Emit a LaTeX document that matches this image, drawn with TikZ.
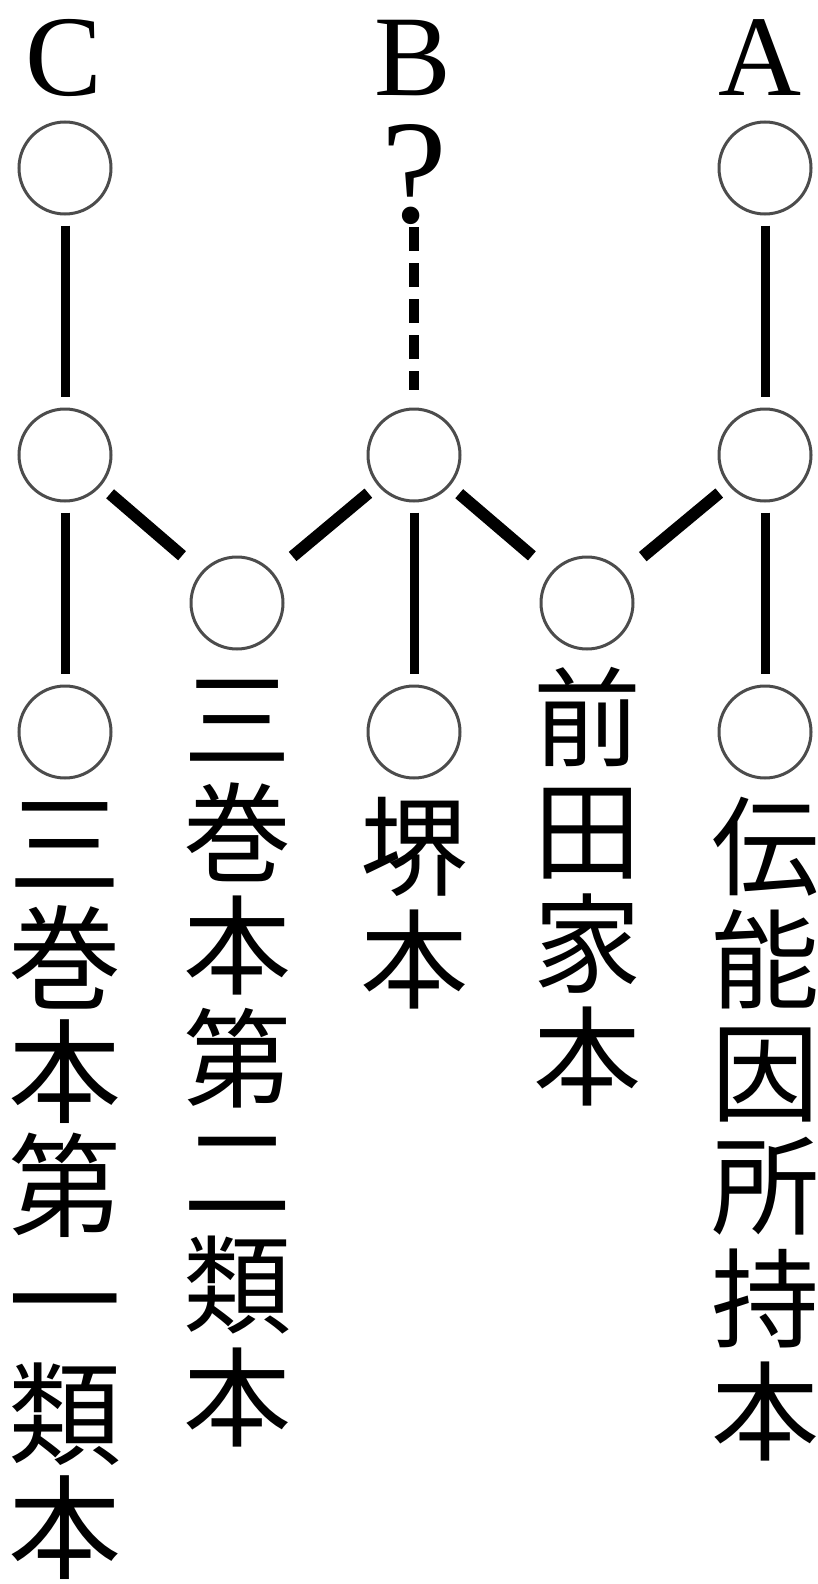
\documentclass[tikz,border=0pt]{standalone}
\usepackage{fontspec}
\setmainfont{Liberation Serif}
\newfontfamily\jp{Noto Sans CJK JP}

\begin{document}
\begin{tikzpicture}[x=1pt,y=-1pt,
  ring/.style={circle,draw=black!70,line width=3pt,minimum size=92pt,inner sep=0pt},
  stem/.style={line width=9pt,shorten <=10pt,shorten >=11pt},
  slant/.style={line width=12pt,shorten <=12pt,shorten >=25pt},
  guess/.style={line width=10pt,dash pattern=on 24pt off 12pt,shorten <=3pt,shorten >=18pt},
  lbl/.style={inner sep=0pt,anchor=base,font=\fontsize{115}{115}\selectfont},
  col/.style={inner sep=0pt,anchor=base,align=center,font=\jp\fontsize{108}{113}\selectfont}]
\useasboundingbox (0,0) rectangle (818,1584);
\node[lbl] (lc) at (64,96) {C};
\node[lbl] (lb) at (413,96) {B};
\node[lbl] (la) at (760,96) {A};
\node[ring] (c1) at (65,168) {};
\node[lbl,font=\fontsize{148}{148}\selectfont] (q) at (414,222) {?};
\node[ring] (a1) at (765,168) {};
\node[ring] (c2) at (65,455) {};
\node[ring] (b2) at (414,455) {};
\node[ring] (a2) at (765,455) {};
\node[ring] (l1) at (237,603) {};
\node[ring] (l2) at (587,603) {};
\node[ring] (c3) at (65,732) {};
\node[ring] (b3) at (414,732) {};
\node[ring] (a3) at (765,732) {};
% lines of descent
\draw[stem] (c1) -- (c2);
\draw[stem] (a1) -- (a2);
\draw[guess] (q) -- (b2);
\draw[stem] (c2) -- (c3);
\draw[stem] (b2) -- (b3);
\draw[stem] (a2) -- (a3);
\draw[slant] (c2) -- (l1);
\draw[slant] (b2) -- (l1);
\draw[slant] (b2) -- (l2);
\draw[slant] (a2) -- (l2);
% manuscript names (anchored at the last line)
\node[col,font=\jp\fontsize{113}{114}\selectfont] (t1) at (65,1570) {三\\巻\\本\\第\\一\\類\\本};
\node[col] (t2) at (237,1438) {三\\巻\\本\\第\\二\\類\\本};
\node[col] (t3) at (414,1000) {堺\\本};
\node[col] (t4) at (587,1097) {前\\田\\家\\本};
\node[col] (t5) at (765,1452) {伝\\能\\因\\所\\持\\本};
\end{tikzpicture}
\end{document}
